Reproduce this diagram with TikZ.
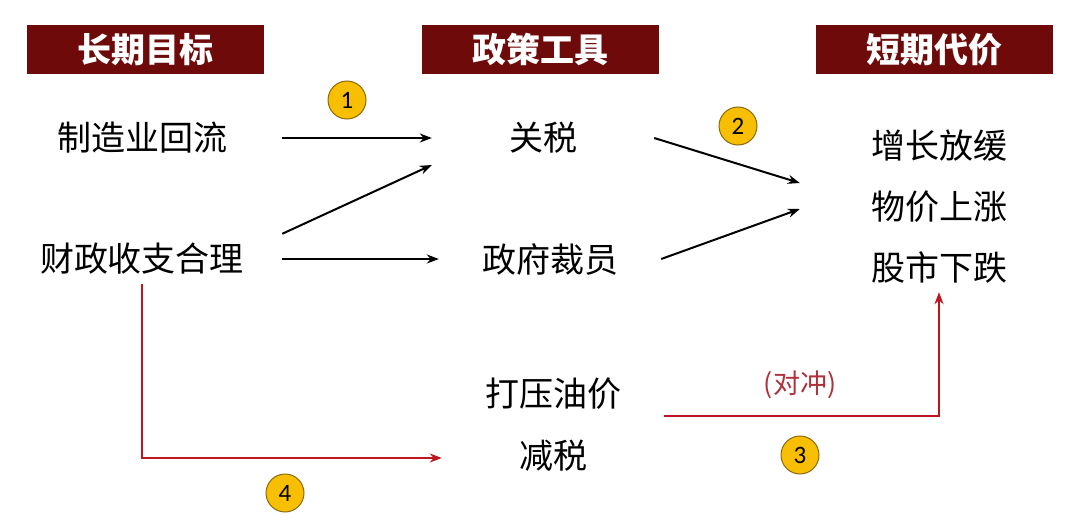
\documentclass[tikz,border=0pt]{standalone}
\usepackage{fontspec}
\setmainfont{Noto Sans CJK SC}
\newfontfamily\numfont{Carlito}
\usetikzlibrary{arrows.meta,positioning}

\definecolor{headred}{HTML}{6E0A0A}
\definecolor{linered}{HTML}{C0141E}
\definecolor{notered}{HTML}{B0303A}
\definecolor{badgegold}{HTML}{F8BE00}
\definecolor{badgeedge}{HTML}{8A6A10}

\begin{document}
\begin{tikzpicture}[
		x=1pt,
		y=-1pt,
		header/.style={
			shape=rectangle,
			fill=headred,
			text=white,
			minimum width=237pt,
			minimum height=49pt,
			font=\fontsize{34}{38}\selectfont\bfseries,
		},
		goal/.style={
			minimum width=280pt,
			minimum height=50pt,
			font=\fontsize{34}{38}\selectfont,
		},
		tool/.style={
			minimum width=222pt,
			minimum height=44pt,
			font=\fontsize{34}{38}\selectfont,
		},
		cost/.style={
			minimum width=278pt,
			minimum height=50pt,
			font=\fontsize{34}{38}\selectfont,
		},
		badge/.style={
			circle,
			fill=badgegold,
			draw=badgeedge,
			line width=1pt,
			minimum size=38pt,
			inner sep=0pt,
			font=\fontsize{25}{27}\selectfont\numfont,
		},
		link/.style={
			-{Stealth[length=12pt,width=9pt]},
			line width=2pt,
		},
		hedge/.style={
			draw=linered,
			line width=1.8pt,
			-{Stealth[length=12pt,width=9pt,fill=linered]},
		},
	]
		\useasboundingbox (0,0) rectangle (1080,525);

		% column headers
		\node[header] (hgoal) at (145.5,49.5) {长期目标};
		\node[header] (htool) at (540,49.5) {政策工具};
		\node[header] (hcost) at (934.5,49.5) {短期代价};

		% long-term goals
		\node[goal] (mfg) at (142,138) {制造业回流};
		\node[goal] (fiscal) at (142,259) {财政收支合理};

		% policy tools
		\node[tool] (tariff) at (543,138) {关税};
		\node[tool] (layoff) at (550,259) {政府裁员};
		\node[tool] (oil) at (553,394) {打压油价};
		\node[tool] (taxcut) at (553,456) {减税};

		% short-term costs
		\node[cost] (slow) at (939,146) {增长放缓};
		\node[cost] (price) at (939,207) {物价上涨};
		\node[cost] (stock) at (939,267) {股市下跌};

		% connectors
		\draw[link] (mfg.east) -- (tariff.west);
		\draw[link] (fiscal.north east) -- ([yshift=-27pt]tariff.west);
		\draw[link] (fiscal.east) -- (layoff.west);
		\draw[link] (tariff.east) -- ([yshift=24pt]price.west);
		\draw[link] (layoff.east) -- ([yshift=-2pt]price.west);
		\draw[hedge] (oil.south east) -| (stock.south);
		\draw[hedge] (fiscal.south) |- ([yshift=-2pt]taxcut.west);

		\node[text=notered, font=\fontsize{27}{30}\selectfont] (offset) at (800,385) {(对冲)};

		% step badges
		\node[badge] (b1) at (347,100) {1};
		\node[badge] (b2) at (738,126) {2};
		\node[badge] (b3) at (800,455) {3};
		\node[badge] (b4) at (285,493) {4};
	\end{tikzpicture}
\end{document}
